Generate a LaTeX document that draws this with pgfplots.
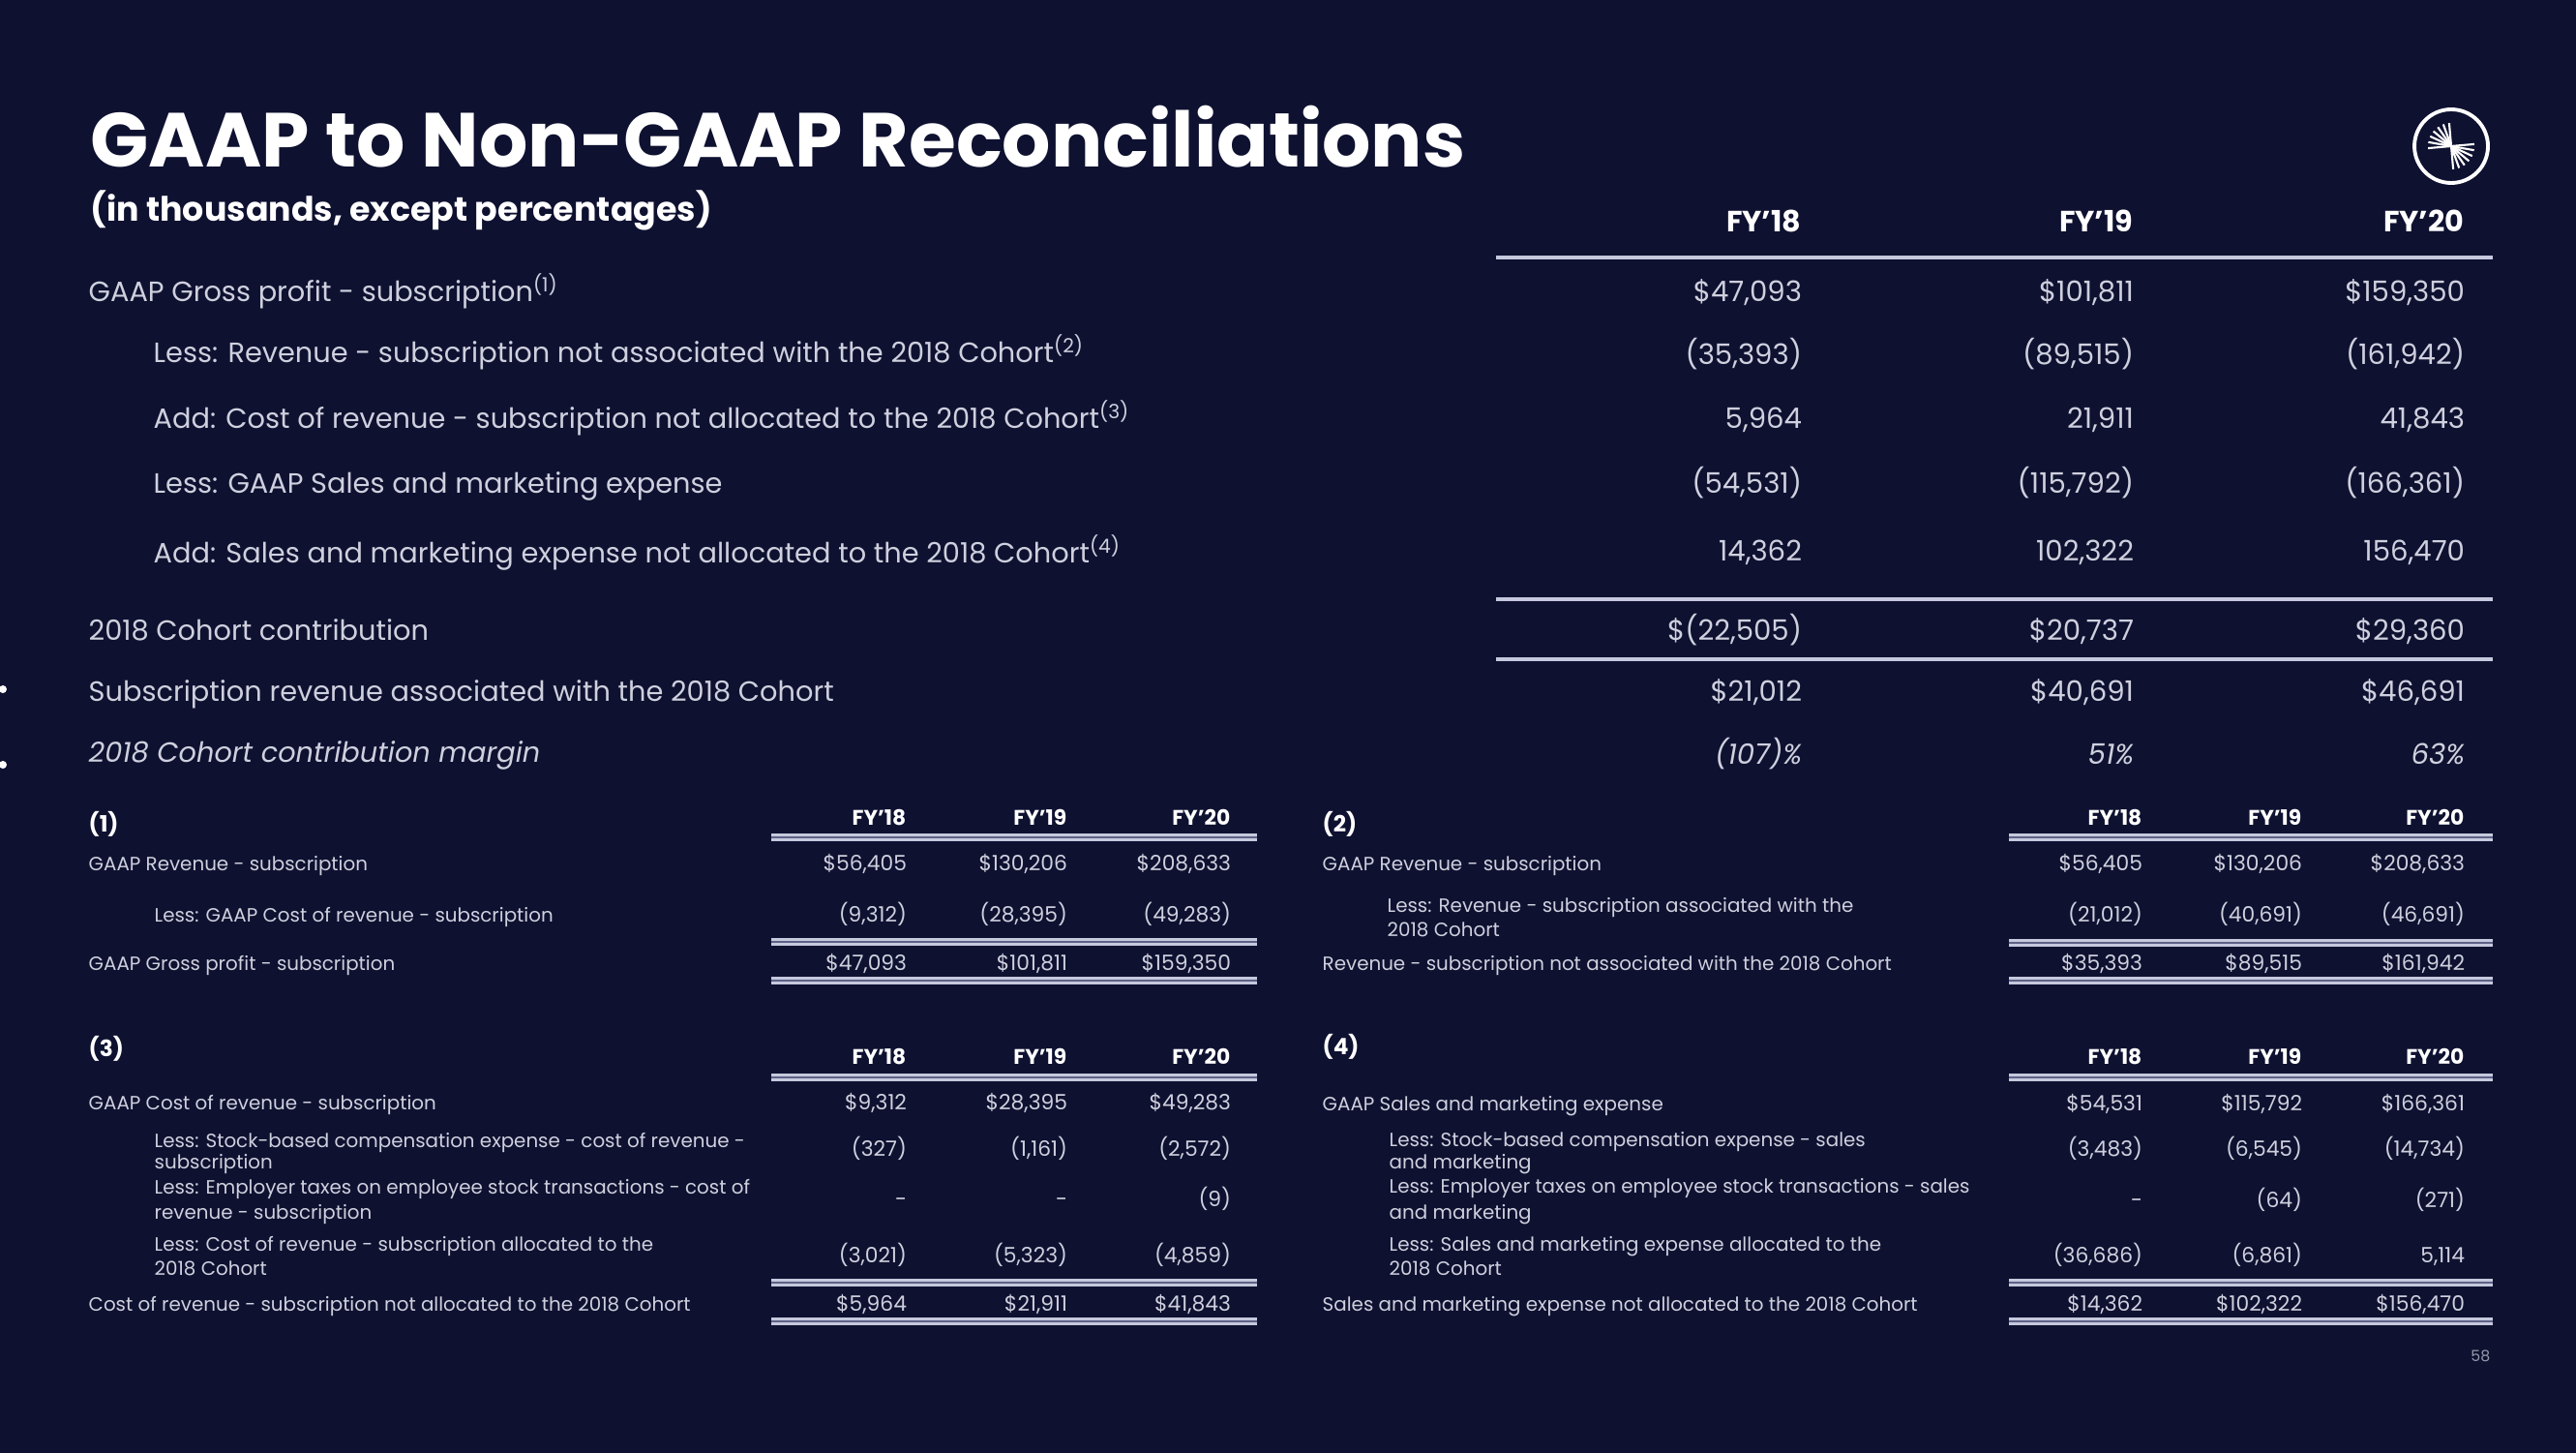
\documentclass[border=0pt]{standalone}
\usepackage{pgfplots}
\pgfplotsset{compat=1.18}
\usepackage{pgfplotstable}
\usepackage{fontspec}
\setmainfont{Poppins}
\definecolor{bg}{HTML}{0E1130}
\definecolor{txt}{HTML}{CFD0DE}
\definecolor{rulec}{HTML}{C6C8DD}
\definecolor{rulein}{HTML}{5E6186}
\protected\def\D{\$}
\protected\def\I#1{\textit{#1}}
\newcommand\lab{\fontsize{8.2}{9.5}\selectfont}
\newcommand\val{\fontsize{8.3}{9.5}\selectfont}
\newcommand\hdr{\fontsize{8.6}{10}\selectfont\bfseries}
\newcommand\sm{\fontsize{5.65}{6.8}\selectfont}
\newcommand\smv{\fontsize{6.2}{7}\selectfont}
\newcommand\smh{\fontsize{6.2}{7}\selectfont\bfseries}

\pgfplotstableread{
y a b c
302 \D47,093 \D101,811 \D159,350
367 (35,393) (89,515) (161,942)
433 5,964 21,911 41,843
500 (54,531) (115,792) (166,361)
570 14,362 102,322 156,470
652 \D(22,505) \D20,737 \D29,360
715 \D21,012 \D40,691 \D46,691
780 \I{(107)\%} \I{51\%} \I{63\%}
}\tmain
\pgfplotstableread{
y a b c
890 \D56,405 \D130,206 \D208,633
943 (9,312) (28,395) (49,283)
993 \D47,093 \D101,811 \D159,350
}\tone
\pgfplotstableread{
y a b c
890 \D56,405 \D130,206 \D208,633
943 (21,012) (40,691) (46,691)
993 \D35,393 \D89,515 \D161,942
}\ttwo
\pgfplotstableread{
y a b c
1137 \D9,312 \D28,395 \D49,283
1185 (327) (1,161) (2,572)
1237 - - (9)
1295 (3,021) (5,323) (4,859)
1345 \D5,964 \D21,911 \D41,843
}\tthree
\pgfplotstableread{
y a b c
1138 \D54,531 \D115,792 \D166,361
1185 (3,483) (6,545) (14,734)
1238 - (64) (271)
1295 (36,686) (6,861) 5,114
1345 \D14,362 \D102,322 \D156,470
}\tfour

% #1 table, #2 x (right edge), #3 column, #4 font
\newcommand\col[4]{%
\addplot[only marks, mark=*, mark size=0pt, mark options={draw=none,fill=none},
  nodes near coords, point meta=explicit symbolic,
  every node near coord/.append style={anchor=mid east, inner sep=0pt, outer sep=0pt, text=txt, font=#4}]
  table[x expr=#2, y=y, meta=#3] {#1};}

\tikzset{L/.style={anchor=mid west, inner sep=0pt, text=txt, font=\lab},
         S/.style={anchor=mid west, inner sep=0pt, text=txt, font=\sm},
         H/.style={anchor=mid east, inner sep=0pt, text=white, font=\hdr},
         SH/.style={anchor=mid east, inner sep=0pt, text=white, font=\smh},
         N/.style={anchor=mid west, inner sep=0pt, text=white, font=\fontsize{6.6}{7}\selectfont\bfseries},
         R/.style={rulec, line width=1.3pt},
         RR/.style={rulec, line width=0.8pt, double=rulein, double distance=0.45pt}}

\begin{document}
\begin{tikzpicture}
\begin{axis}[width=26.62cm, height=15cm, scale only axis,
  xmin=0, xmax=2662, ymin=0, ymax=1500, y dir=reverse,
  hide axis, clip=false]
\fill[bg] (axis cs:-20,-20) rectangle (axis cs:2682,1520);
\coordinate (ll) at (axis cs:0,1500);
\coordinate (ur) at (axis cs:2662,0);

% title
\node[anchor=base west, inner sep=0pt, text=white, font=\fontsize{22.5}{26}\selectfont\bfseries] at (axis cs:93,172) {GAAP to Non-GAAP Reconciliations};
\node[anchor=base west, inner sep=0pt, text=white, font=\fontsize{9.9}{11}\selectfont\bfseries] at (axis cs:93,228) {(in thousands, except percentages)};

% logo anchor
\coordinate (logo) at (axis cs:2533,151);
\fill[white] (axis cs:3,712) circle[radius=0.04cm];
\fill[white] (axis cs:3,790) circle[radius=0.04cm];

% main table
\node[H] at (axis cs:1862,230) {FY’18};
\node[H] at (axis cs:2205,230) {FY’19};
\node[H] at (axis cs:2547,230) {FY’20};
\draw[R] (axis cs:1546,266) -- (axis cs:2576,266);
\draw[R] (axis cs:1546,619) -- (axis cs:2576,619);
\draw[R] (axis cs:1546,681) -- (axis cs:2576,681);
\node[L] at (axis cs:91,302) {GAAP Gross profit - subscription\textsuperscript{(1)}};
\node[L] at (axis cs:158,365) {Less: Revenue - subscription not associated with the 2018 Cohort\textsuperscript{(2)}};
\node[L] at (axis cs:158,433) {Add: Cost of revenue - subscription not allocated to the 2018 Cohort\textsuperscript{(3)}};
\node[L] at (axis cs:158,500) {Less: GAAP Sales and marketing expense};
\node[L] at (axis cs:158,572) {Add: Sales and marketing expense not allocated to the 2018 Cohort\textsuperscript{(4)}};
\node[L] at (axis cs:91,652) {2018 Cohort contribution};
\node[L] at (axis cs:91,715) {Subscription revenue associated with the 2018 Cohort};
\node[L] at (axis cs:91,778) {\textit{2018 Cohort contribution margin}};
\col{\tmain}{1862}{a}{\val}
\col{\tmain}{2205}{b}{\val}
\col{\tmain}{2547}{c}{\val}

% table (1)
\node[N] at (axis cs:91,850) {(1)};
\node[SH] at (axis cs:937,843) {FY’18};
\node[SH] at (axis cs:1103,843) {FY’19};
\node[SH] at (axis cs:1272,843) {FY’20};
\draw[RR] (axis cs:797,865) -- (axis cs:1299,865);
\draw[RR] (axis cs:797,973) -- (axis cs:1299,973);
\draw[RR] (axis cs:797,1013) -- (axis cs:1299,1013);
\node[S] at (axis cs:91,890) {GAAP Revenue - subscription};
\node[S] at (axis cs:159,943) {Less: GAAP Cost of revenue - subscription};
\node[S] at (axis cs:91,993) {GAAP Gross profit - subscription};
\col{\tone}{937}{a}{\smv}
\col{\tone}{1103}{b}{\smv}
\col{\tone}{1272}{c}{\smv}

% table (2)
\node[N] at (axis cs:1366,850) {(2)};
\node[SH] at (axis cs:2214,843) {FY’18};
\node[SH] at (axis cs:2379,843) {FY’19};
\node[SH] at (axis cs:2547,843) {FY’20};
\draw[RR] (axis cs:2076,865) -- (axis cs:2576,865);
\draw[RR] (axis cs:2076,974) -- (axis cs:2576,974);
\draw[RR] (axis cs:2076,1013) -- (axis cs:2576,1013);
\node[S] at (axis cs:1366,890) {GAAP Revenue - subscription};
\node[S] at (axis cs:1433,933) {Less: Revenue - subscription associated with the};
\node[S] at (axis cs:1433,958) {2018 Cohort};
\node[S] at (axis cs:1366,993) {Revenue - subscription not associated with the 2018 Cohort};
\col{\ttwo}{2214}{a}{\smv}
\col{\ttwo}{2379}{b}{\smv}
\col{\ttwo}{2547}{c}{\smv}

% table (3)
\node[N] at (axis cs:91,1082) {(3)};
\node[SH] at (axis cs:937,1090) {FY’18};
\node[SH] at (axis cs:1103,1090) {FY’19};
\node[SH] at (axis cs:1272,1090) {FY’20};
\draw[RR] (axis cs:797,1113) -- (axis cs:1299,1113);
\draw[RR] (axis cs:797,1325) -- (axis cs:1299,1325);
\draw[RR] (axis cs:797,1365) -- (axis cs:1299,1365);
\node[S] at (axis cs:91,1137) {GAAP Cost of revenue - subscription};
\node[S] at (axis cs:159,1176) {Less: Stock-based compensation expense - cost of revenue -};
\node[S] at (axis cs:159,1198) {subscription};
\node[S] at (axis cs:159,1224) {Less: Employer taxes on employee stock transactions - cost of};
\node[S] at (axis cs:159,1250) {revenue - subscription};
\node[S] at (axis cs:159,1283) {Less: Cost of revenue - subscription allocated to the};
\node[S] at (axis cs:159,1308) {2018 Cohort};
\node[S] at (axis cs:91,1345) {Cost of revenue - subscription not allocated to the 2018 Cohort};
\col{\tthree}{937}{a}{\smv}
\col{\tthree}{1103}{b}{\smv}
\col{\tthree}{1272}{c}{\smv}

% table (4)
\node[N] at (axis cs:1366,1080) {(4)};
\node[SH] at (axis cs:2214,1090) {FY’18};
\node[SH] at (axis cs:2379,1090) {FY’19};
\node[SH] at (axis cs:2547,1090) {FY’20};
\draw[RR] (axis cs:2076,1113) -- (axis cs:2576,1113);
\draw[RR] (axis cs:2076,1325) -- (axis cs:2576,1325);
\draw[RR] (axis cs:2076,1365) -- (axis cs:2576,1365);
\node[S] at (axis cs:1366,1138) {GAAP Sales and marketing expense};
\node[S] at (axis cs:1435,1175) {Less: Stock-based compensation expense - sales};
\node[S] at (axis cs:1435,1198) {and marketing};
\node[S] at (axis cs:1435,1223) {Less: Employer taxes on employee stock transactions - sales};
\node[S] at (axis cs:1435,1250) {and marketing};
\node[S] at (axis cs:1435,1283) {Less: Sales and marketing expense allocated to the};
\node[S] at (axis cs:1435,1308) {2018 Cohort};
\node[S] at (axis cs:1366,1345) {Sales and marketing expense not allocated to the 2018 Cohort};
\col{\tfour}{2214}{a}{\smv}
\col{\tfour}{2379}{b}{\smv}
\col{\tfour}{2547}{c}{\smv}

\node[anchor=mid east, inner sep=0pt, text=txt!70!bg, font=\fontsize{4.5}{5}\selectfont] at (axis cs:2574,1397) {58};
\end{axis}
% logo
\draw[white, line width=1.1pt] (logo) circle[radius=0.38cm];
\foreach \a in {95,110,125,140,155,170,185,275,290,305,320,335,350,5} {\draw[white, line width=0.6pt] (logo) -- ++(\a:0.24cm);}
\pgfresetboundingbox
\path[use as bounding box] (ll) rectangle (ur);
\end{tikzpicture}
\end{document}
